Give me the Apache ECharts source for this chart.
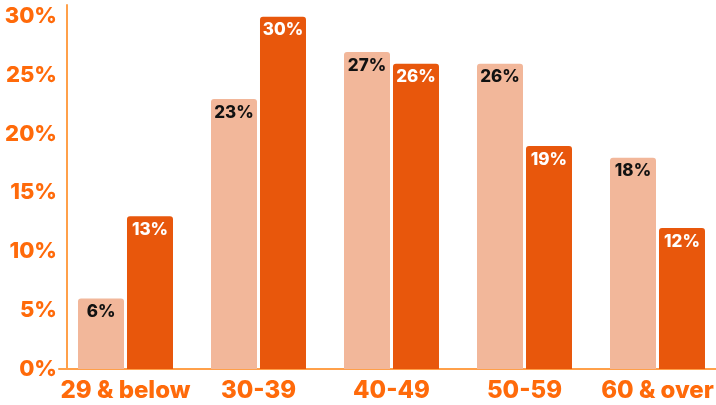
<!DOCTYPE html>
<html><head><meta charset="utf-8">
<script src="https://cdn.jsdelivr.net/npm/echarts@6/dist/echarts.min.js"></script>
<style>html,body{margin:0;padding:0;background:#fff}#c{width:716px;height:405px}</style>
</head><body><div id="c"></div>
<script>
const categories = ['29 & below', '30-39', '40-49', '50-59', '60 & over'];
const seriesA = [6, 23, 27, 26, 18];
const seriesB = [13, 30, 26, 19, 12];
const yTicks = [0, 5, 10, 15, 20, 25, 30];

const chart = echarts.init(document.getElementById('c'));
const orange = '#ff6a0a';
const font = 'Inter';
chart.setOption({
  animation: false,
  grid: {left: 59, top: 5, width: 665, bottom: 36, outerBoundsMode: 'none', containLabel: false},
  xAxis: {
    type: 'category', data: categories,
    axisLine: {lineStyle: {color: '#ffa04a', width: 2}},
    axisTick: {show: false},
    axisLabel: {interval: 0, color: orange, fontFamily: font, fontWeight: 800, fontSize: 24, margin: 10}
  },
  yAxis: {
    type: 'value', min: 0, max: 31, interval: 5, offset: -8,
    axisLine: {show: true, lineStyle: {color: '#ffa04a', width: 2}},
    axisTick: {show: false},
    splitLine: {show: false},
    axisLabel: {color: orange, fontFamily: font, fontWeight: 800, fontSize: 22, margin: 10,
      formatter: v => yTicks.includes(v) ? v + '%' : ''}
  },
  series: [
    {type: 'bar', data: seriesA, barWidth: 46, barGap: '6.5%',
     itemStyle: {color: '#f2b79a', borderRadius: [3,3,0,0]},
     label: {show: true, position: 'insideTop', distance: 5, formatter: '{c}%', color: '#111', fontFamily: font, fontWeight: 800, fontSize: 17}},
    {type: 'bar', data: seriesB, barWidth: 46,
     itemStyle: {color: '#e8570c', borderRadius: [3,3,0,0]},
     label: {show: true, position: 'insideTop', distance: 5, formatter: '{c}%', color: '#fff', fontFamily: font, fontWeight: 800, fontSize: 17}}
  ]
});
</script></body></html>
